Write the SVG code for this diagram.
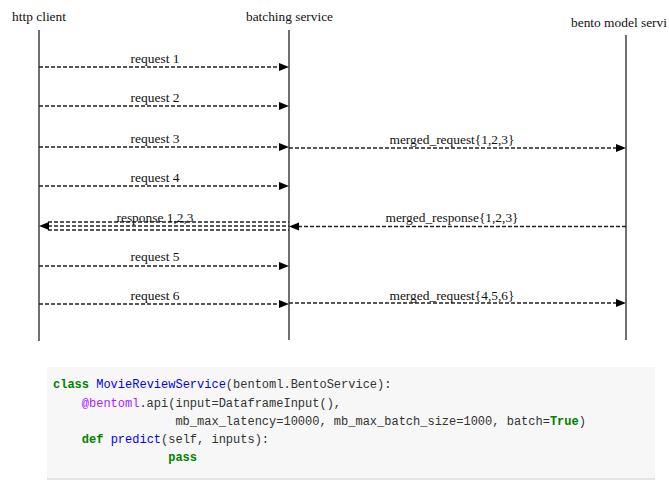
<svg xmlns="http://www.w3.org/2000/svg" width="669" height="483" viewBox="0 0 669 483">
<style>
.t{font-family:"Liberation Serif","Times New Roman",serif;font-size:13.5px;fill:#111}
.life{stroke:#111;stroke-width:1.2;fill:none}
.msg{stroke:#222;stroke-width:1.4;stroke-dasharray:4 2;fill:none}
.head{fill:#000}
.code{font-family:"Liberation Mono","DejaVu Sans Mono",monospace;font-size:12px;fill:#333;white-space:pre}
.kw{fill:#008000;font-weight:bold}
.nm{fill:#0000ff}
.dec{fill:#aa22ff}
</style>
<rect x="0" y="0" width="669" height="483" fill="#fff"/>
<g id="http-client">
<text class="t" x="12" y="21" textLength="54" lengthAdjust="spacingAndGlyphs">http client</text>
<line class="life" x1="39" y1="30" x2="39" y2="341" stroke-width="1.6"/>
</g>
<g id="batching-service">
<text class="t" x="246" y="21" textLength="87" lengthAdjust="spacingAndGlyphs">batching service</text>
<line class="life" x1="289" y1="30" x2="289" y2="340"/>
</g>
<g id="bento-model-service">
<text class="t" x="571" y="27" textLength="96" lengthAdjust="spacingAndGlyphs">bento model servi</text>
<line class="life" x1="626" y1="35" x2="626" y2="340"/>
</g>
<g id="connectors">
<line class="msg" x1="39" y1="67" x2="280" y2="67"/><polygon class="head" points="279,63 289,67 279,71"/>
<text class="t" x="155" y="63" text-anchor="middle">request 1</text>
<line class="msg" x1="39" y1="106" x2="280" y2="106"/><polygon class="head" points="279,102 289,106 279,110"/>
<text class="t" x="155" y="102" text-anchor="middle">request 2</text>
<line class="msg" x1="39" y1="147" x2="280" y2="147"/><polygon class="head" points="279,143 289,147 279,151"/>
<text class="t" x="155" y="143" text-anchor="middle">request 3</text>
<line class="msg" x1="289" y1="148" x2="617" y2="148"/><polygon class="head" points="616,144 626,148 616,152"/>
<text class="t" x="452" y="143.5" text-anchor="middle" textLength="125" lengthAdjust="spacingAndGlyphs">merged_request{1,2,3}</text>
<line class="msg" x1="39" y1="186" x2="280" y2="186"/><polygon class="head" points="279,182 289,186 279,190"/>
<text class="t" x="155" y="182" text-anchor="middle">request 4</text>
<line class="msg" x1="48" y1="222" x2="289" y2="222"/>
<line class="msg" x1="48" y1="226" x2="289" y2="226"/>
<line class="msg" x1="48" y1="230" x2="289" y2="230"/>
<polygon class="head" points="49,222 39,226 49,230"/>
<text class="t" x="155" y="221.5" text-anchor="middle" textLength="77" lengthAdjust="spacingAndGlyphs">response 1,2,3</text>
<line class="msg" x1="298" y1="226.5" x2="626" y2="226.5"/><polygon class="head" points="299,222.5 289,226.5 299,230.5"/>
<text class="t" x="452" y="221.5" text-anchor="middle" textLength="133" lengthAdjust="spacingAndGlyphs">merged_response{1,2,3}</text>
<line class="msg" x1="39" y1="266" x2="280" y2="266"/><polygon class="head" points="279,262 289,266 279,270"/>
<text class="t" x="155" y="261" text-anchor="middle">request 5</text>
<line class="msg" x1="39" y1="304" x2="280" y2="304"/><polygon class="head" points="279,300 289,304 279,308"/>
<text class="t" x="155" y="299.5" text-anchor="middle">request 6</text>
<line class="msg" x1="289" y1="303" x2="617" y2="303"/><polygon class="head" points="616,299 626,303 616,307"/>
<text class="t" x="452" y="299.5" text-anchor="middle" textLength="125" lengthAdjust="spacingAndGlyphs">merged_request{4,5,6}</text>
</g>
<g id="code">
<rect x="47" y="367" width="608" height="112" fill="#f7f7f7"/>
<line x1="47" y1="479" x2="655" y2="479" stroke="#dcdcdc" stroke-width="1.5"/>
<text class="code" x="53" y="388"><tspan class="kw">class</tspan> <tspan class="nm">MovieReviewService</tspan>(bentoml.BentoService):</text>
<text class="code" x="53" y="407">    <tspan class="dec">@bentoml</tspan>.api(input=DataframeInput(),</text>
<text class="code" x="53" y="425">                 mb_max_latency=10000, mb_max_batch_size=1000, batch=<tspan class="kw">True</tspan>)</text>
<text class="code" x="53" y="443">    <tspan class="kw">def</tspan> <tspan class="nm">predict</tspan>(self, inputs):</text>
<text class="code" x="53" y="461">                <tspan class="kw">pass</tspan></text>
</g>
</svg>
